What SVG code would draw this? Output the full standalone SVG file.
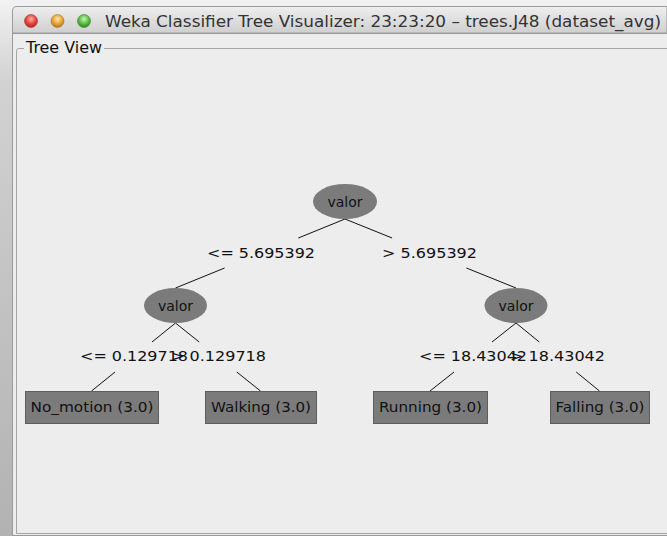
<svg xmlns="http://www.w3.org/2000/svg" width="667" height="536" viewBox="0 0 667 536">
  <defs>
    <linearGradient id="desk" x1="0" y1="0" x2="0" y2="1">
      <stop offset="0" stop-color="#f2f2f2"/>
      <stop offset="0.15" stop-color="#d2d2d2"/>
      <stop offset="1" stop-color="#b2b2b2"/>
    </linearGradient>
    <linearGradient id="titlebar" x1="0" y1="0" x2="0" y2="1">
      <stop offset="0" stop-color="#eeeeee"/>
      <stop offset="1" stop-color="#cfcfcf"/>
    </linearGradient>
    <radialGradient id="btnRed" cx="0.5" cy="0.35" r="0.6">
      <stop offset="0" stop-color="#ffb3ad"/>
      <stop offset="0.6" stop-color="#e8463f"/>
      <stop offset="1" stop-color="#b92a24"/>
    </radialGradient>
    <radialGradient id="btnOrange" cx="0.5" cy="0.35" r="0.6">
      <stop offset="0" stop-color="#ffe7a8"/>
      <stop offset="0.6" stop-color="#e8a63a"/>
      <stop offset="1" stop-color="#b97b1d"/>
    </radialGradient>
    <radialGradient id="btnGreen" cx="0.5" cy="0.35" r="0.6">
      <stop offset="0" stop-color="#c8f5b8"/>
      <stop offset="0.6" stop-color="#5cbf45"/>
      <stop offset="1" stop-color="#368a26"/>
    </radialGradient>
  </defs>
  <style>
    .ui { font-family: "DejaVu Sans", "Liberation Sans", sans-serif; }
    .title { font-size: 16px; fill: #333333; }
    .panel { font-size: 15px; fill: #111111; }
    .lbl { font-size: 14px; fill: #111111; }
    .node { fill: #7b7b7b; }
    .leaf { fill: #7b7b7b; stroke: #5e5e5e; stroke-width: 1; }
    .ntext { font-size: 14px; fill: #111111; text-anchor: middle; }
    .edge { stroke: #111111; stroke-width: 1; fill: none; }
    .border { stroke: #a4a4a4; stroke-width: 1; fill: none; }
  </style>

  <!-- desktop behind the window -->
  <rect x="0" y="0" width="667" height="536" fill="#f0f0f0"/>
  <rect x="0" y="0" width="12" height="536" fill="url(#desk)"/>

  <!-- window body -->
  <rect x="12" y="6" width="660" height="530" fill="#ededed"/>
  <line x1="12.5" y1="10" x2="12.5" y2="536" stroke="#9a9a9a"/>
  <line x1="12" y1="535.5" x2="667" y2="535.5" stroke="#9a9a9a"/>

  <!-- title bar -->
  <path d="M12.5 33 V11 Q12.5 6.5 17 6.5 H667 V33 Z" fill="url(#titlebar)" stroke="#9c9c9c"/>
  <line x1="12" y1="33.5" x2="667" y2="33.5" stroke="#9a9a9a"/>
  <circle cx="31" cy="21" r="6.5" fill="url(#btnRed)" stroke="#a03a34" stroke-width="0.6"/>
  <circle cx="57.5" cy="21" r="6.5" fill="url(#btnOrange)" stroke="#a57a2a" stroke-width="0.6"/>
  <circle cx="84" cy="21" r="6.5" fill="url(#btnGreen)" stroke="#3d8a30" stroke-width="0.6"/>
  <text class="ui title" x="105" y="27" textLength="556" lengthAdjust="spacingAndGlyphs">Weka Classifier Tree Visualizer: 23:23:20 – trees.J48 (dataset_avg)</text>

  <!-- titled panel border -->
  <path class="border" d="M24 48.5 H19 Q16.5 48.5 16.5 51 V533.5 H667"/>
  <line class="border" x1="104" y1="48.5" x2="667" y2="48.5"/>
  <text class="ui panel" x="26" y="53" textLength="76" lengthAdjust="spacingAndGlyphs">Tree View</text>

  <!-- connectors (visible parts around the edge labels) -->
  <g id="connectors">
    <line class="edge" x1="345" y1="219" x2="298.3" y2="238"/>
    <line class="edge" x1="224.6" y1="268" x2="175.5" y2="288"/>
    <line class="edge" x1="345" y1="219" x2="392.1" y2="238"/>
    <line class="edge" x1="466.4" y1="268" x2="516" y2="288"/>

    <line class="edge" x1="175.5" y1="323" x2="152" y2="342"/>
    <line class="edge" x1="115" y1="372" x2="91.5" y2="391"/>
    <line class="edge" x1="175.5" y1="323" x2="199.2" y2="342"/>
    <line class="edge" x1="236.8" y1="372" x2="260.5" y2="391"/>

    <line class="edge" x1="516" y1="323" x2="492" y2="342"/>
    <line class="edge" x1="454" y1="372" x2="430" y2="391"/>
    <line class="edge" x1="516" y1="323" x2="539.3" y2="342"/>
    <line class="edge" x1="576.2" y1="372" x2="599.5" y2="391"/>
  </g>

  <!-- edge labels -->
  <g id="edge-labels" class="ui lbl">
    <text x="207" y="258" textLength="108" lengthAdjust="spacingAndGlyphs">&lt;= 5.695392</text>
    <text x="382" y="258" textLength="95" lengthAdjust="spacingAndGlyphs">&gt; 5.695392</text>
    <text x="80" y="361" textLength="108" lengthAdjust="spacingAndGlyphs">&lt;= 0.129718</text>
    <text x="171" y="361" textLength="95" lengthAdjust="spacingAndGlyphs">&gt; 0.129718</text>
    <text x="419" y="361" textLength="108" lengthAdjust="spacingAndGlyphs">&lt;= 18.43042</text>
    <text x="510" y="361" textLength="95" lengthAdjust="spacingAndGlyphs">&gt; 18.43042</text>
  </g>

  <!-- decision nodes -->
  <g id="node-root">
    <ellipse class="node" cx="345" cy="201.5" rx="32" ry="17.5"/>
    <text class="ui ntext" x="345" y="207">valor</text>
  </g>
  <g id="node-left">
    <ellipse class="node" cx="175.5" cy="305.5" rx="31.5" ry="17.5"/>
    <text class="ui ntext" x="175.5" y="311">valor</text>
  </g>
  <g id="node-right">
    <ellipse class="node" cx="516" cy="305.5" rx="31.5" ry="17.5"/>
    <text class="ui ntext" x="516" y="311">valor</text>
  </g>

  <!-- leaves -->
  <g id="leaf-no-motion">
    <rect class="leaf" x="25.5" y="391.5" width="133" height="32"/>
    <text class="ui ntext" x="92" y="412" textLength="123" lengthAdjust="spacingAndGlyphs">No_motion (3.0)</text>
  </g>
  <g id="leaf-walking">
    <rect class="leaf" x="205.5" y="391.5" width="111" height="32"/>
    <text class="ui ntext" x="261" y="412" textLength="100" lengthAdjust="spacingAndGlyphs">Walking (3.0)</text>
  </g>
  <g id="leaf-running">
    <rect class="leaf" x="373.5" y="391.5" width="114" height="32"/>
    <text class="ui ntext" x="430.5" y="412" textLength="103" lengthAdjust="spacingAndGlyphs">Running (3.0)</text>
  </g>
  <g id="leaf-falling">
    <rect class="leaf" x="550.5" y="391.5" width="99" height="32"/>
    <text class="ui ntext" x="600" y="412" textLength="89" lengthAdjust="spacingAndGlyphs">Falling (3.0)</text>
  </g>
</svg>
